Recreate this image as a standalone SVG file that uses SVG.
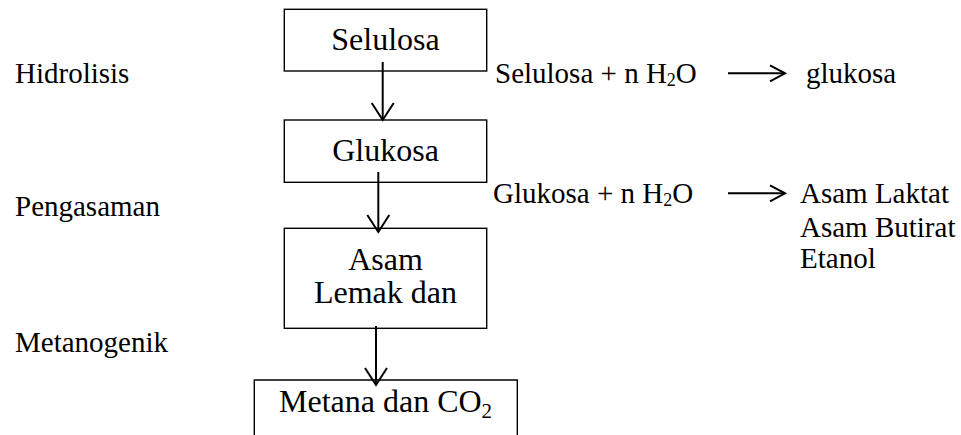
<svg xmlns="http://www.w3.org/2000/svg" width="961" height="435" viewBox="0 0 961 435">
<style>
.box{fill:none;stroke:#000;stroke-width:1.4}
.t{font-family:"Liberation Serif","Times New Roman",serif;fill:#000}
.bt{font-size:32px;text-anchor:middle}
.st{font-size:29px}
.ln{fill:none;stroke:#000;stroke-width:2}
</style>
<rect width="961" height="435" fill="#fff"/>
<g id="label-hidrolisis"><text class="t st" x="15" y="83">Hidrolisis</text></g>
<g id="label-pengasaman"><text class="t st" x="15" y="216">Pengasaman</text></g>
<g id="label-metanogenik"><text class="t st" x="15" y="352">Metanogenik</text></g>
<g id="node-selulosa">
<rect class="box" x="284.3" y="9.3" width="202.4" height="61.7"/>
<text class="t bt" x="385.5" y="50">Selulosa</text>
</g>
<g id="node-glukosa">
<rect class="box" x="284.3" y="120" width="202.4" height="62.3"/>
<text class="t bt" x="385.5" y="161">Glukosa</text>
</g>
<g id="node-asam">
<rect class="box" x="284.3" y="228.3" width="202.4" height="100"/>
<text class="t bt" x="385.5" y="270">Asam</text>
<text class="t bt" x="385.5" y="303">Lemak dan</text>
</g>
<g id="node-metana">
<path class="box" d="M254.3,435 V380 H517.3 V435"/>
<text class="t" font-size="32" x="279" y="412">Metana dan CO<tspan font-size="21" dy="6">2</tspan></text>
</g>
<g id="reaction-1">
<text class="t st" x="495" y="83">Selulosa + n H<tspan font-size="18" dy="3">2</tspan><tspan dy="-3">O</tspan></text>
<text class="t st" x="806" y="83">glukosa</text>
</g>
<g id="reaction-2">
<text class="t st" x="493" y="203">Glukosa + n H<tspan font-size="18" dy="3">2</tspan><tspan dy="-3">O</tspan></text>
<text class="t st" x="800" y="203">Asam Laktat</text>
<text class="t st" x="800" y="236.5">Asam Butirat</text>
<text class="t st" x="800" y="267.5">Etanol</text>
</g>
<g id="connectors">
<line class="ln" x1="382.7" y1="62" x2="382.7" y2="120"/>
<polyline class="ln" points="371.7,103 382.7,120 393.7,103"/>
<line class="ln" x1="378.3" y1="172" x2="378.3" y2="232"/>
<polyline class="ln" points="367.3,215 378.3,232 389.3,215"/>
<line class="ln" x1="376" y1="326" x2="376" y2="385"/>
<polyline class="ln" points="365,368 376,385 387,368"/>
<line class="ln" x1="728" y1="73.3" x2="785" y2="73.3"/>
<polyline class="ln" points="770,65.3 785,73.3 770,81.3"/>
<line class="ln" x1="728" y1="193.3" x2="785" y2="193.3"/>
<polyline class="ln" points="770,185.3 785,193.3 770,201.3"/>
</g>
</svg>
